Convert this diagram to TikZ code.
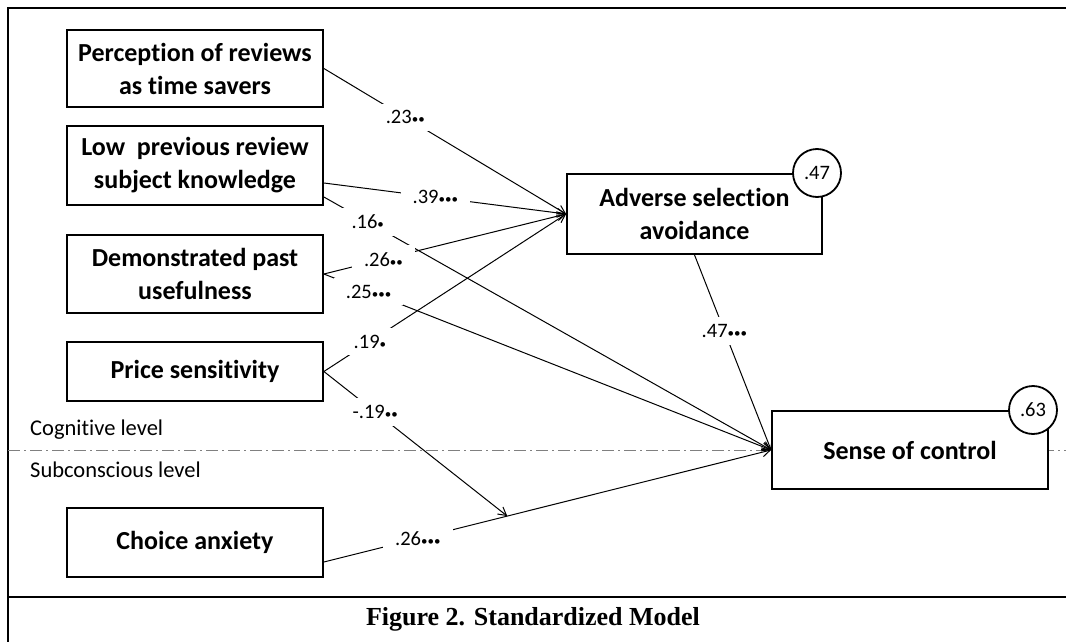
\documentclass[tikz,border=0pt]{standalone}
\usepackage{fontspec}
\setmainfont{Carlito}[Ligatures=NoCommon]
\newfontfamily\capfont{Liberation Serif}
\usetikzlibrary{arrows.meta,calc}
\newcommand\dt{{\fontsize{13}{13}\selectfont •}}
\begin{document}
\begin{tikzpicture}[x=1pt,y=-1pt,
  box/.style={draw, line width=1.8pt, fill=white, align=center, font=\fontsize{26}{33}\selectfont\bfseries, inner sep=0pt},
  lbl/.style={fill=white, inner xsep=12pt, inner ysep=7pt, font=\fontsize{20.5}{22}\selectfont},
  conn/.style={line width=1pt, -{Straight Barb[length=8pt,width=9pt]}},
  rsq/.style={circle, draw, line width=1.8pt, fill=white, minimum size=48pt, inner sep=0pt, font=\fontsize{20.5}{20}\selectfont},
  lev/.style={anchor=west, font=\fontsize{22.5}{22}\selectfont, inner sep=0pt},
  frame/.style={line width=1.8pt}
]
\useasboundingbox (0,0) rectangle (1066,642);
\fill[white] (0,0) rectangle (1066,642);
\draw[frame] (8,642) -- (8,8) -- (1066,8);
\draw[frame] (8,597) -- (1066,597);
\draw[gray, line width=0.8pt, dash pattern=on 12pt off 4pt on 2pt off 4pt] (8,450) -- (1066,450);

\node[lev] (cog) at (30,430) {Cognitive level};
\node[lev] (sub) at (30,470) {Subconscious level};

\node[box, minimum width=256pt, minimum height=77pt] (perc) at (195,68.5) {Perception of reviews\\as time savers};
\node[box, minimum width=256pt, minimum height=79pt] (lowk) at (195,165.5) {Low\ \ previous review\\subject knowledge};
\node[box, minimum width=256pt, minimum height=78pt] (demo) at (195,274) {Demonstrated past\\usefulness};
\node[box, minimum width=256pt, minimum height=59pt] (price) at (195,371.5) {Price sensitivity};
\node[box, minimum width=256pt, minimum height=69pt] (choice) at (195,542.5) {Choice anxiety};
\node[box, minimum width=255pt, minimum height=80pt] (asa) at (694.5,214) {Adverse selection\\avoidance};
\node[box, minimum width=276pt, minimum height=78pt] (soc) at (910,450) {Sense of control};
\node[rsq] (r1) at (817,173) {.47};
\node[rsq] (r2) at (1033,410) {.63};

\coordinate (lk1) at ($(lowk.east)+(0,17.5)$);
\coordinate (lk2) at ($(lowk.east)+(0,31.5)$);
\coordinate (ch) at ($(choice.east)+(0,19.5)$);
\coordinate (mod) at ($(ch)!0.41!(soc.west)$);

\draw[conn] (perc.east) -- coordinate[pos=0.336] (l1) (asa.west);
\draw[conn] (lk1) -- coordinate[pos=0.46] (l2) (asa.west);
\draw[conn] (lk2) -- coordinate[pos=0.098] (l3) (soc.west);
\draw[conn] (demo.east) -- coordinate[pos=0.246] (l4) (asa.west);
\draw[conn] (demo.east) -- coordinate[pos=0.1] (l5) (soc.west);
\draw[conn] (price.east) -- coordinate[pos=0.19] (l6) (asa.west);
\draw[conn] (price.east) -- coordinate[pos=0.28] (l7) (mod);
\draw[conn] (ch) -- coordinate[pos=0.21] (l8) (soc.west);
\draw[conn] (asa.south) -- coordinate[pos=0.39] (l9) (soc.west);

\node[lbl] (t1) at (l1) {.23\dt\dt};
\node[lbl] (t2) at (l2) {.39\dt\dt\dt};
\node[lbl] (t3) at (l3) {.16\dt};
\node[lbl] (t4) at (l4) {.26\dt\dt};
\node[lbl] (t5) at (l5) {.25\dt\dt\dt};
\node[lbl] (t6) at (l6) {.19\dt};
\node[lbl] (t7) at (l7) {-.19\dt\dt};
\node[lbl] (t8) at (l8) {.26\dt\dt\dt};
\node[lbl] (t9) at (l9) {.47\dt\dt\dt};

\node[font=\capfont\bfseries\fontsize{26}{26}\selectfont] (cap) at (533,619) {Figure 2. Standardized Model};
\end{tikzpicture}
\end{document}
